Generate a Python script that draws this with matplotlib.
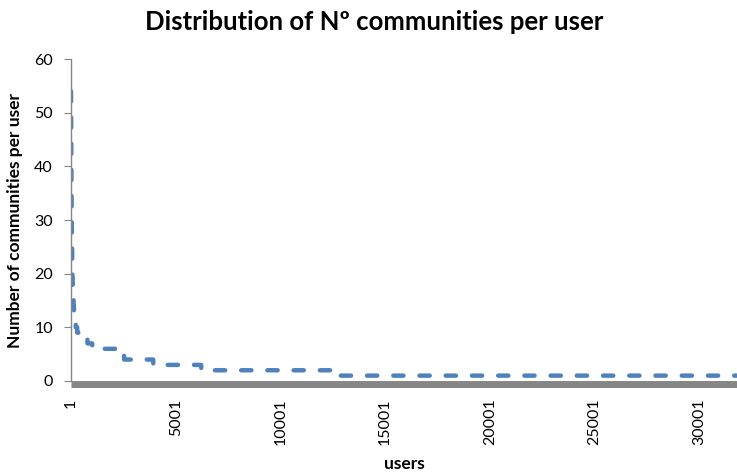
import numpy as np
import matplotlib.pyplot as plt

plt.rcParams['font.family'] = ['Lato', 'DejaVu Sans']

# number of communities a user belongs to, and how many users have that count
n_communities = [54, 53, 52, 51, 50, 49, 48, 47, 46, 45, 44, 43, 42, 41,
                 40, 39, 38, 37, 36, 35, 34, 33, 32, 31,
                 30, 29, 28, 27, 26, 25, 24, 23, 22, 21,
                 20, 19, 18, 17, 16, 15, 14, 13, 12, 11,
                 10, 9, 8, 7, 6, 5, 4, 3, 2, 1]
n_users = [1, 1, 1, 1, 1, 1, 1, 1, 1, 1, 1, 1, 1, 1,
           2, 2, 2, 2, 2, 2, 2, 2, 2, 2,
           3, 3, 3, 3, 3, 3, 3, 3, 3, 3,
           6, 7, 8, 10, 12, 14, 18, 22, 28, 35,
           70, 150, 340, 230, 1140, 380, 1390, 2290, 6300, 19300]
tick_users = [1, 5001, 10001, 15001, 20001, 25001, 30001]

# users sorted by community count, largest first
per_user = np.repeat(n_communities, n_users)
users = np.arange(1, len(per_user) + 1)

fig = plt.figure(figsize=(7.37, 4.75), dpi=100)
ax = fig.add_axes([71 / 737, 1 - 381 / 475, 1 - 71 / 737, (381 - 59) / 475])

ax.plot(users, per_user, color='#4F81BD', lw=3.2, dashes=(2.3, 3.6),
        dash_capstyle='round', solid_capstyle='round')

ax.set_xlim(1, 31800)
ax.set_ylim(0, 60)
ax.set_yticks(range(0, 61, 10))
ax.set_xticks(tick_users)
ax.set_xticklabels([str(t) for t in tick_users])
ax.tick_params(axis='x', length=0, pad=10, labelrotation=90, labelsize=11.5)
ax.tick_params(axis='y', length=5, color='#868686', labelsize=11.5, pad=8)

for s in ['top', 'right']:
    ax.spines[s].set_visible(False)
ax.spines['left'].set_color('#868686')
ax.spines['left'].set_linewidth(1)
ax.spines['bottom'].set_color('#868686')
ax.spines['bottom'].set_linewidth(5)
ax.spines['bottom'].set_position(('outward', 2.5))
ax.spines['bottom'].set_capstyle('butt')

ax.set_xlabel('users', fontsize=12.5, fontweight='bold', labelpad=8)
ax.set_ylabel('Number of communities per user', fontsize=12.5, fontweight='bold', labelpad=8)
fig.suptitle('Distribution of Nº communities per user', x=0.508, y=0.98,
             fontsize=18.5, fontweight='bold')

fig.savefig('out.png')
